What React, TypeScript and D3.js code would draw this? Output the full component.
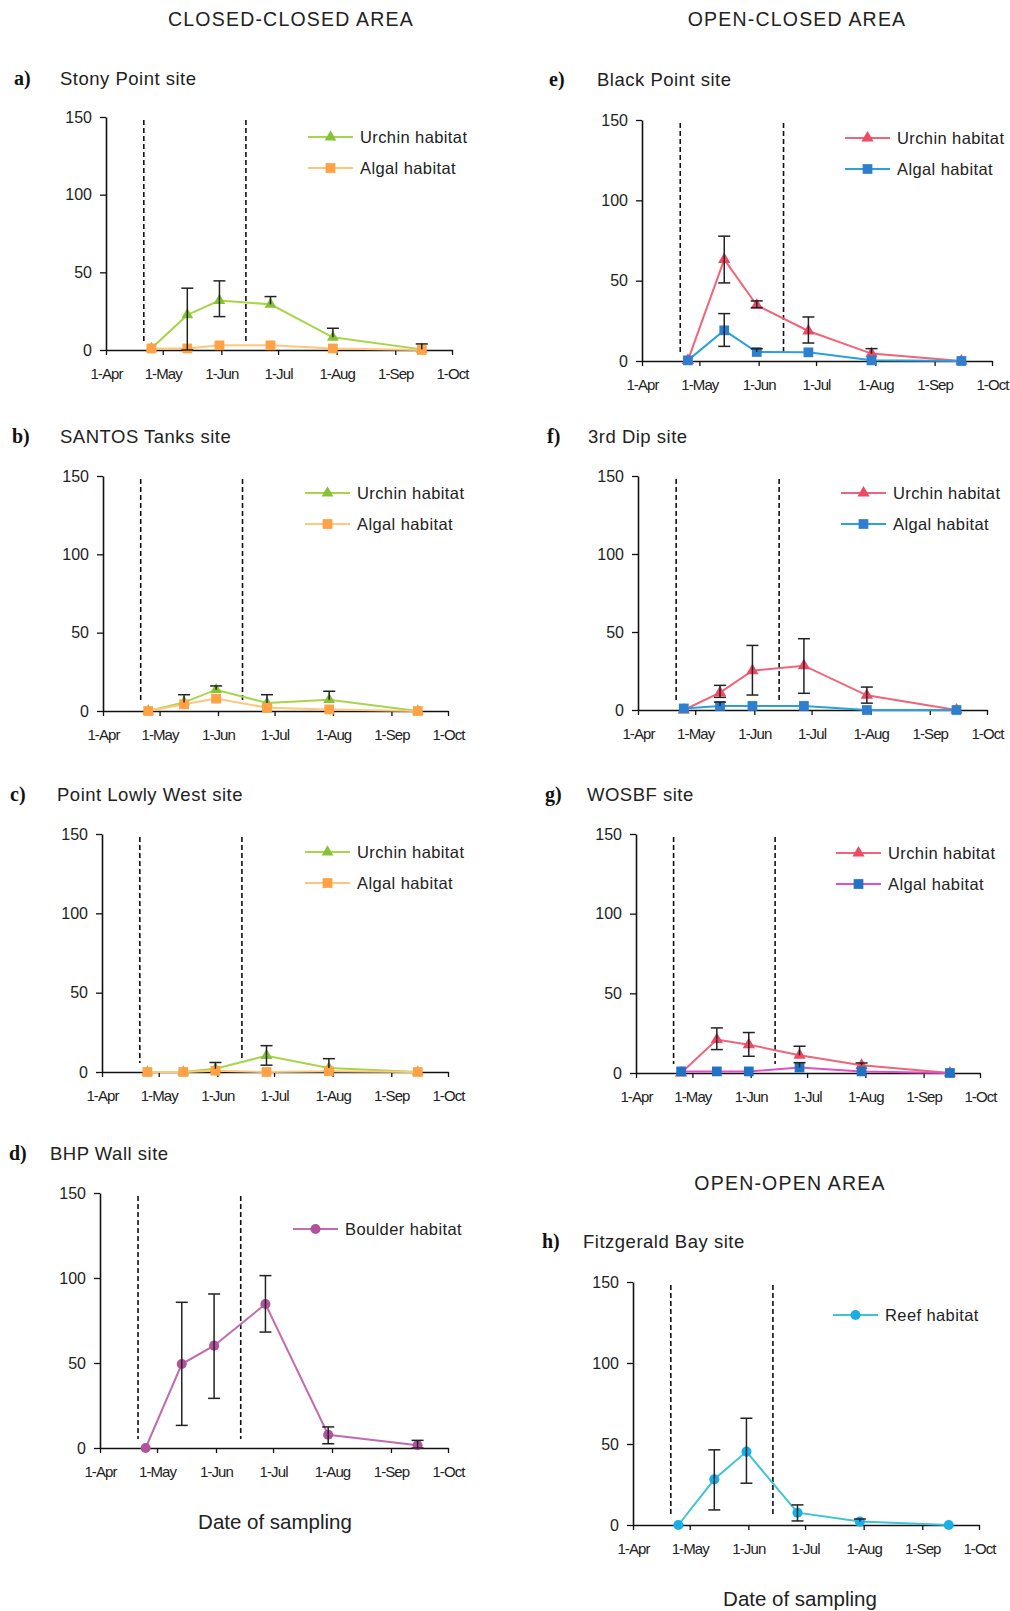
import React, { useRef, useEffect } from "react";
import * as d3 from "d3";

// sampling dates, closure period and axis ticks
const sampleDates = ["2009-04-25", "2009-05-14", "2009-05-31", "2009-06-27", "2009-07-30", "2009-09-15"];
const closureDates = ["2009-04-21", "2009-06-14"];
const monthTicks = ["2009-04-01", "2009-05-01", "2009-06-01", "2009-07-01", "2009-08-01", "2009-09-01", "2009-10-01"];
const yTicks = [0, 50, 100, 150];

// a) Stony Point
const stonyUrchin = [1, 22.6, 31.8, 29.4, 8.2, 0.4];
const stonyUrchinUp = [0, 17.2, 12.7, 5, 5.8, 3.5];
const stonyUrchinDown = [0, 22.6, 10.3, 0, 0, 0];
const stonyAlgal = [1, 1, 3, 3, 1, 0];

// b) SANTOS Tanks
const santosUrchin = [0, 5.5, 13.6, 5.1, 7.2, 0];
const santosUrchinUp = [0, 4.9, 2.4, 5.3, 5.4, 0];
const santosAlgal = [0, 4.3, 7.9, 2.1, 1, 0];

// c) Point Lowly West
const lowlyUrchin = [0, 0, 2, 10.3, 2.5, 0];
const lowlyUrchinUp = [0, 0, 4, 6.3, 5.9, 0];
const lowlyUrchinDown = [0, 0, 0, 6, 0, 0];
const lowlyAlgal = [0, 0, 0.8, 0, 0.5, 0];

// d) BHP Wall
const bhpBoulder = [0, 49.4, 60.2, 84.7, 7.8, 1.6];
const bhpBoulderUp = [0, 36.3, 30.4, 16.7, 4.6, 2.9];
const bhpBoulderDown = [0, 36.1, 31, 16.5, 5.3, 1.6];

// e) Black Point
const blackUrchin = [0.4, 63.2, 34.7, 18.7, 4.6, 0];
const blackUrchinUp = [0, 14.5, 2.7, 8.7, 3.1, 0];
const blackUrchinDown = [0, 14.6, 1.5, 7.5, 0, 0];
const blackAlgal = [0.4, 19.1, 5.6, 5.4, 0.4, 0];
const blackAlgalUp = [0, 10.4, 2, 0, 0, 0];
const blackAlgalDown = [0, 10, 0, 0, 0, 0];

// f) 3rd Dip
const dipUrchin = [0, 11.1, 25.2, 28.4, 9.4, 0];
const dipUrchinUp = [0, 4.7, 16.2, 17.3, 5.3, 0];
const dipUrchinDown = [0, 3, 15.6, 17.7, 5, 0];
const dipAlgal = [1, 2.6, 2.6, 2.6, 0, 0];
const dipAlgalUp = [0, 2.5, 0, 0, 0, 0];

// g) WOSBF
const wosbfUrchin = [0, 21, 17.8, 11.1, 4.8, 0];
const wosbfUrchinUp = [0, 7.3, 7.6, 5.7, 1.5, 0];
const wosbfUrchinDown = [0, 6.3, 7.3, 0, 0, 0];
const wosbfAlgal = [1, 1, 1, 3.4, 1, 0];
const wosbfAlgalUp = [0, 0, 0, 3.1, 0, 0];

// h) Fitzgerald Bay
const fitzReef = [0, 28.2, 45.3, 7.6, 2.1, 0];
const fitzReefUp = [0, 18.2, 20.6, 4.8, 1.6, 0];
const fitzReefDown = [0, 18.9, 19.5, 5.1, 0, 0];

const none = [0, 0, 0, 0, 0, 0];

const green = { line: "#a8d548", marker: "#86c234", symbol: d3.symbolTriangle, size: 60 };
const orange = { line: "#ffc77a", marker: "#ffa144", symbol: d3.symbolSquare, size: 95 };
const red = { line: "#f06479", marker: "#ee4a64", symbol: d3.symbolTriangle, size: 65 };
const blue = { line: "#2aa0de", marker: "#2e7fd0", symbol: d3.symbolSquare, size: 95 };
const pinkBlue = { line: "#e050c4", marker: "#1f72c4", symbol: d3.symbolSquare, size: 95 };
const purple = { line: "#c46aae", marker: "#b0539c", symbol: d3.symbolCircle, size: 80 };
const cyan = { line: "#3fc4d2", marker: "#18aee6", symbol: d3.symbolCircle, size: 80 };

const panels = [
  { letter: "a)", title: "Stony Point site", box: [106, 452, 117, 350], head: [14, 60, 85], legend: [308, 137],
    series: [
      { name: "Urchin habitat", values: stonyUrchin, up: stonyUrchinUp, down: stonyUrchinDown, ...green },
      { name: "Algal habitat", values: stonyAlgal, up: none, down: none, ...orange },
    ] },
  { letter: "b)", title: "SANTOS Tanks site", box: [103, 448, 476, 711], head: [12, 60, 443], legend: [305, 493],
    series: [
      { name: "Urchin habitat", values: santosUrchin, up: santosUrchinUp, down: none, ...green },
      { name: "Algal habitat", values: santosAlgal, up: none, down: none, ...orange },
    ] },
  { letter: "c)", title: "Point Lowly West site", box: [102, 448, 834, 1072], head: [10, 57, 801], legend: [305, 852],
    series: [
      { name: "Urchin habitat", values: lowlyUrchin, up: lowlyUrchinUp, down: lowlyUrchinDown, ...green },
      { name: "Algal habitat", values: lowlyAlgal, up: none, down: none, ...orange },
    ] },
  { letter: "d)", title: "BHP Wall site", box: [100, 448, 1193, 1448], head: [9, 50, 1160], legend: [293, 1229],
    series: [
      { name: "Boulder habitat", values: bhpBoulder, up: bhpBoulderUp, down: bhpBoulderDown, ...purple },
    ] },
  { letter: "e)", title: "Black Point site", box: [642, 992, 120, 361], head: [549, 597, 86], legend: [845, 138],
    series: [
      { name: "Urchin habitat", values: blackUrchin, up: blackUrchinUp, down: blackUrchinDown, ...red },
      { name: "Algal habitat", values: blackAlgal, up: blackAlgalUp, down: blackAlgalDown, ...blue },
    ] },
  { letter: "f)", title: "3rd Dip site", box: [638, 987, 476, 710], head: [547, 588, 443], legend: [841, 493],
    series: [
      { name: "Urchin habitat", values: dipUrchin, up: dipUrchinUp, down: dipUrchinDown, ...red },
      { name: "Algal habitat", values: dipAlgal, up: dipAlgalUp, down: none, ...blue },
    ] },
  { letter: "g)", title: "WOSBF site", box: [636, 980, 834, 1073], head: [545, 587, 801], legend: [836, 853],
    series: [
      { name: "Urchin habitat", values: wosbfUrchin, up: wosbfUrchinUp, down: wosbfUrchinDown, ...red },
      { name: "Algal habitat", values: wosbfAlgal, up: wosbfAlgalUp, down: none, ...pinkBlue },
    ] },
  { letter: "h)", title: "Fitzgerald Bay site", box: [633, 979, 1282, 1525], head: [542, 583, 1248], legend: [833, 1315],
    series: [
      { name: "Reef habitat", values: fitzReef, up: fitzReefUp, down: fitzReefDown, ...cyan },
    ] },
];

const sans = "'Liberation Sans', Arial, sans-serif";
const serif = "'Liberation Serif', 'Times New Roman', serif";

const App = () => {
  const svgRef = useRef<SVGSVGElement>(null);

  useEffect(() => {
    const width = 1010, height = 1611;
    const svg = d3.select(svgRef.current)
      .attr("width", width)
      .attr("height", height)
      .style("background", "#fff");
    svg.selectAll("*").remove();

    const parse = d3.timeParse("%Y-%m-%d");
    const dates = sampleDates.map(d => parse(d) as Date);
    const closures = closureDates.map(d => parse(d) as Date);
    const ticks = monthTicks.map(d => parse(d) as Date);

    // area headings
    const headings = [
      { text: "CLOSED-CLOSED AREA", x: 291, y: 26 },
      { text: "OPEN-CLOSED AREA", x: 797, y: 26 },
      { text: "OPEN-OPEN AREA", x: 790, y: 1190 },
    ];
    headings.forEach(h => {
      svg.append("text")
        .attr("x", h.x).attr("y", h.y)
        .attr("text-anchor", "middle")
        .style("font-family", sans).style("font-size", "19.5px")
        .style("letter-spacing", "1.2px").attr("fill", "#222")
        .text(h.text);
    });

    panels.forEach(p => {
      const [x0, x1, yTop, yBottom] = p.box;
      const g = svg.append("g");

      const x = d3.scaleTime().domain([ticks[0], ticks[ticks.length - 1]]).range([x0, x1]);
      const y = d3.scaleLinear().domain([0, 150]).range([yBottom, yTop]);

      // panel letter and site name
      g.append("text")
        .attr("x", p.head[0]).attr("y", p.head[2])
        .style("font-family", serif).style("font-size", "20px").style("font-weight", "bold")
        .attr("fill", "#111").text(p.letter);
      g.append("text")
        .attr("x", p.head[1]).attr("y", p.head[2])
        .style("font-family", sans).style("font-size", "18.5px").style("letter-spacing", "0.5px")
        .attr("fill", "#222").text(p.title);

      // Y-axis
      const yAxis = g.append("g")
        .attr("transform", `translate(${x0},0)`)
        .call(d3.axisLeft(y).tickValues(yTicks).tickSize(6).tickSizeOuter(0).tickPadding(8));
      yAxis.selectAll("text").style("font-family", sans).style("font-size", "16px").attr("fill", "#222");

      // X-axis
      const xAxis = g.append("g")
        .attr("transform", `translate(0,${yBottom})`)
        .call(d3.axisBottom(x).tickValues(ticks).tickFormat(d3.timeFormat("1-%b") as any)
          .tickSize(5).tickSizeOuter(0).tickPadding(13));
      xAxis.selectAll("text").style("font-family", sans).style("font-size", "15px")
        .style("letter-spacing", "-0.9px").attr("fill", "#222");
      [yAxis, xAxis].forEach(a => {
        a.select(".domain").attr("stroke", "#111").attr("stroke-width", 1.6);
        a.selectAll(".tick line").attr("stroke", "#111").attr("stroke-width", 1.3);
      });

      // closure period
      g.selectAll(".closure")
        .data(closures)
        .enter().append("line")
        .attr("x1", d => x(d)).attr("x2", d => x(d))
        .attr("y1", yTop + 3).attr("y2", yBottom - 9)
        .attr("stroke", "#111").attr("stroke-width", 1.6)
        .attr("stroke-dasharray", "5,3");

      const line = d3.line<number>()
        .x((_, i) => x(dates[i]))
        .y(d => y(d));

      p.series.forEach(s => {
        g.append("path")
          .datum(s.values)
          .attr("fill", "none")
          .attr("stroke", s.line)
          .attr("stroke-width", 2)
          .attr("d", line);
      });

      p.series.forEach(s => {
        const sym = d3.symbol().type(s.symbol).size(s.size);
        g.selectAll(null)
          .data(s.values)
          .enter().append("path")
          .attr("d", sym)
          .attr("transform", (d, i) => `translate(${x(dates[i])},${y(d)})`)
          .attr("fill", s.marker);
      });

      // error bars
      p.series.forEach(s => {
        s.values.forEach((v, i) => {
          const cx = x(dates[i]);
          const ends: number[] = [];
          if (s.up[i] > 0) ends.push(v + s.up[i]);
          if (s.down[i] > 0) ends.push(Math.max(0, v - s.down[i]));
          ends.forEach(e => {
            g.append("line")
              .attr("x1", cx).attr("x2", cx).attr("y1", y(v)).attr("y2", y(e))
              .attr("stroke", "#222").attr("stroke-width", 1.5);
            g.append("line")
              .attr("x1", cx - 6).attr("x2", cx + 6).attr("y1", y(e)).attr("y2", y(e))
              .attr("stroke", "#222").attr("stroke-width", 1.5);
          });
        });
      });

      // legend
      const [lx, ly] = p.legend;
      p.series.forEach((s, i) => {
        const yy = ly + i * 31;
        g.append("line")
          .attr("x1", lx).attr("x2", lx + 45).attr("y1", yy).attr("y2", yy)
          .attr("stroke", s.line).attr("stroke-width", 2);
        g.append("path")
          .attr("d", d3.symbol().type(s.symbol).size(s.size)())
          .attr("transform", `translate(${lx + 22.5},${yy})`)
          .attr("fill", s.marker);
        g.append("text")
          .attr("x", lx + 52).attr("y", yy + 6)
          .style("font-family", sans).style("font-size", "16.5px").style("letter-spacing", "0.4px")
          .attr("fill", "#222").text(s.name);
      });
    });

    // axis titles
    [{ x: 275, y: 1529 }, { x: 800, y: 1606 }].forEach(t => {
      svg.append("text")
        .attr("x", t.x).attr("y", t.y)
        .attr("text-anchor", "middle")
        .style("font-family", sans).style("font-size", "20.5px")
        .attr("fill", "#222").text("Date of sampling");
    });
  }, []);

  return (
    <div style={{ position: "absolute", left: 0, top: 0 }}>
      <svg ref={svgRef} style={{ display: "block" }}></svg>
    </div>
  );
};

export default App;
